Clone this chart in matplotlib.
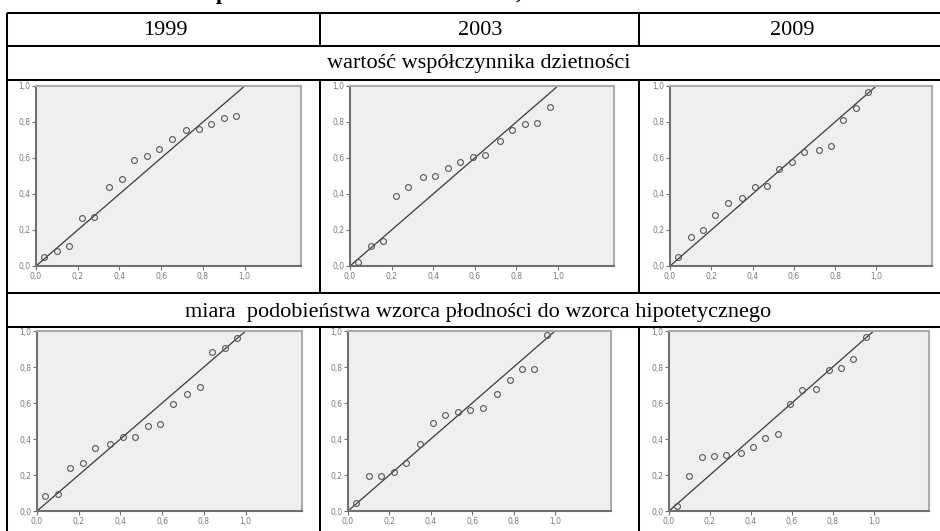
import matplotlib
matplotlib.use("Agg")
import matplotlib.pyplot as plt
from matplotlib.ticker import FuncFormatter

# Observed cumulative probabilities (shared by all six P-P plots)
obs_prob = [0.04, 0.10, 0.16, 0.22, 0.28, 0.35, 0.41, 0.47,
            0.53, 0.59, 0.65, 0.72, 0.78, 0.84, 0.90, 0.96]

years = ["1999", "2003", "2009"]
row_titles = ["wartość współczynnika dzietności",
              "miara  podobieństwa wzorca płodności do wzorca hipotetycznego"]

# Expected cumulative probabilities: total fertility rate
tfr_1999 = [0.050, 0.081, 0.110, 0.265, 0.273, 0.438, 0.486, 0.587,
            0.613, 0.648, 0.707, 0.753, 0.761, 0.790, 0.825, 0.836]
tfr_2003 = [0.022, 0.110, 0.140, 0.390, 0.440, 0.497, 0.499, 0.543,
            0.580, 0.606, 0.617, 0.694, 0.755, 0.790, 0.797, 0.884]
tfr_2009 = [0.052, 0.160, 0.199, 0.284, 0.348, 0.379, 0.438, 0.447,
            0.538, 0.578, 0.632, 0.646, 0.665, 0.812, 0.880, 0.969]

# Expected cumulative probabilities: similarity to the hypothetical pattern
sim_1999 = [0.084, 0.095, 0.241, 0.267, 0.348, 0.372, 0.411, 0.413,
            0.473, 0.484, 0.596, 0.652, 0.688, 0.886, 0.903, 0.961]
sim_2003 = [0.045, 0.193, 0.193, 0.219, 0.267, 0.370, 0.488, 0.536,
            0.548, 0.559, 0.570, 0.650, 0.727, 0.787, 0.789, 0.979]
sim_2009 = [0.026, 0.194, 0.301, 0.305, 0.312, 0.325, 0.353, 0.406,
            0.428, 0.593, 0.671, 0.677, 0.783, 0.794, 0.845, 0.964]

rows = [[tfr_1999, tfr_2003, tfr_2009],
        [sim_1999, sim_2003, sim_2009]]

tick_vals = [0.0, 0.2, 0.4, 0.6, 0.8, 1.0]

W, H = 940, 531
fig = plt.figure(figsize=(W / 100, H / 100), dpi=100)
fig.patch.set_facecolor("white")

# full-figure layer in pixel coordinates for the table grid and captions
grid = fig.add_axes([0, 0, 1, 1])
grid.set_xlim(0, W)
grid.set_ylim(H, 0)
grid.axis("off")

LW = 1.45
hlines = [12.5, 46, 80, 293, 327]
for y in hlines:
    grid.plot([7, W + 5], [y, y], color="black", lw=LW, solid_capstyle="butt")
grid.plot([7, 7], [12.5, H + 5], color="black", lw=LW, solid_capstyle="butt")
for x in (319.5, 638.5):
    for y0, y1 in ((12.5, 46), (80, 293), (327, H + 5)):
        grid.plot([x, x], [y0, y1], color="black", lw=LW, solid_capstyle="butt")

serif = ["Liberation Serif", "DejaVu Serif"]
FS = 16

# heading line above the table, only its lowest strokes fall on the page
grid.text(222, -1.5, "p", fontsize=FS, fontweight="bold", family=serif,
          ha="center", va="baseline")
grid.text(519, -1.5, ",", fontsize=FS, fontweight="bold", family=serif,
          ha="center", va="baseline")

col_centers = [165, 480, 792]
for cx, yr in zip(col_centers, years):
    grid.text(cx, 35, yr, fontsize=FS, family=serif, ha="center",
              va="baseline")
grid.text(478.5, 68, row_titles[0], fontsize=FS, family=serif,
          ha="center", va="baseline")
grid.text(478.5, 317, row_titles[1], fontsize=FS, family=serif,
          ha="center", va="baseline")

# plot frames in pixels: (left, right) per column, top per row
col_bounds = [[(36, 301), (350, 614), (670, 932)],
              [(37, 302), (348, 611), (669, 929)]]
row_tops = [86, 331]
plot_h = 180

fmt = FuncFormatter(lambda v, _: f"{v:.1f}".replace(".", ","))

for r, series_row in enumerate(rows):
    for c, yvals in enumerate(series_row):
        left, right = col_bounds[r][c]
        top = row_tops[r]
        ax = fig.add_axes([left / W, 1 - (top + plot_h) / H,
                           (right - left) / W, plot_h / H])
        ax.set_facecolor("#efefef")
        ax.set_xlim(0, 1.27)
        ax.set_ylim(0, 1.0)
        ax.axline((0, 0), slope=1, color="#3a3a3a", lw=0.9, zorder=2)
        ax.plot(obs_prob, yvals, "o", mfc="none", mec="#555555",
                ms=4.2, mew=0.8, zorder=3)
        for side in ("left", "bottom"):
            ax.spines[side].set_color("#707070")
            ax.spines[side].set_linewidth(1.5)
        for side in ("top", "right"):
            ax.spines[side].set_color("#ababab")
            ax.spines[side].set_linewidth(1.5)
        ax.set_xticks(tick_vals)
        ax.set_yticks(tick_vals)
        ax.xaxis.set_major_formatter(fmt)
        ax.yaxis.set_major_formatter(fmt)
        ax.tick_params(direction="out", length=3, width=0.8,
                       color="#707070", labelsize=5.5,
                       labelcolor="#7a7a7a", pad=1)

fig.savefig("out.png", dpi=100, facecolor="white")
